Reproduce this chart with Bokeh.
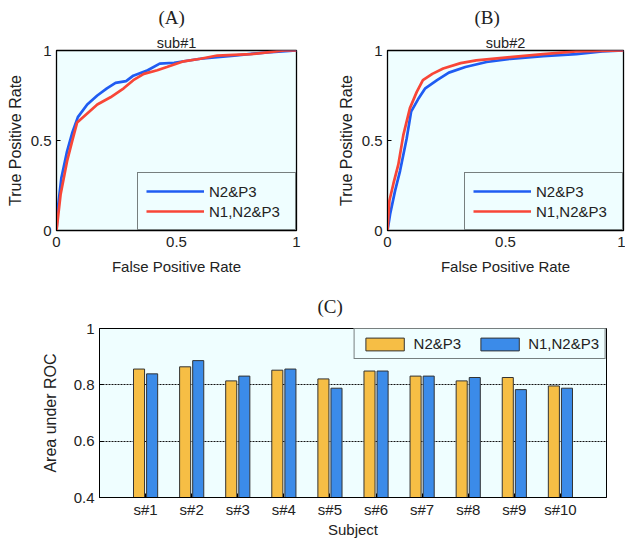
from bokeh.plotting import figure
from bokeh.layouts import column, row
from bokeh.models import Title, FixedTicker, Range1d, ColumnDataSource
from bokeh.transform import dodge
from bokeh.embed import file_html
from bokeh.resources import INLINE

# ---------------- data ----------------
fpr_a_n2p3 = [0, 0.006, 0.02, 0.044, 0.065, 0.089, 0.128, 0.17, 0.21, 0.246, 0.29, 0.32, 0.38, 0.43, 0.49, 0.6, 0.74, 0.88, 1.0]
tpr_a_n2p3 = [0, 0.128, 0.29, 0.44, 0.54, 0.63, 0.70, 0.75, 0.79, 0.82, 0.83, 0.86, 0.89, 0.927, 0.932, 0.954, 0.972, 0.99, 1.0]
fpr_a_n1n2p3 = [0, 0.017, 0.044, 0.065, 0.086, 0.128, 0.17, 0.225, 0.28, 0.32, 0.364, 0.42, 0.46, 0.53, 0.6, 0.67, 0.81, 0.95, 1.0]
tpr_a_n1n2p3 = [0, 0.20, 0.385, 0.495, 0.60, 0.65, 0.70, 0.74, 0.79, 0.835, 0.87, 0.89, 0.908, 0.94, 0.954, 0.972, 0.98, 1.0, 1.0]

fpr_b_n2p3 = [0, 0.011, 0.032, 0.053, 0.081, 0.10, 0.13, 0.16, 0.21, 0.26, 0.33, 0.42, 0.52, 0.66, 0.80, 0.91, 1.0]
tpr_b_n2p3 = [0, 0.09, 0.22, 0.33, 0.51, 0.66, 0.73, 0.79, 0.835, 0.877, 0.908, 0.936, 0.954, 0.969, 0.98, 0.995, 1.0]
fpr_b_n1n2p3 = [0, 0.008, 0.025, 0.046, 0.067, 0.095, 0.124, 0.15, 0.19, 0.236, 0.31, 0.376, 0.52, 0.66, 0.80, 1.0]
tpr_b_n1n2p3 = [0, 0.165, 0.26, 0.367, 0.53, 0.68, 0.77, 0.835, 0.87, 0.90, 0.93, 0.945, 0.963, 0.98, 0.995, 1.0]

subjects = ["s#1", "s#2", "s#3", "s#4", "s#5", "s#6", "s#7", "s#8", "s#9", "s#10"]
subject_idx = [1, 2, 3, 4, 5, 6, 7, 8, 9, 10]
auc_n2p3 = [0.856, 0.864, 0.814, 0.852, 0.821, 0.849, 0.831, 0.814, 0.826, 0.796]
auc_n1n2p3 = [0.839, 0.886, 0.831, 0.856, 0.788, 0.849, 0.831, 0.826, 0.783, 0.788]

roc_ticks = [0, 0.5, 1]
roc_tick_labels = {0: "0", 0.5: "0.5", 1: "1"}
auc_ticks = [0.4, 0.6, 0.8, 1.0]
auc_tick_labels = {0.4: "0.4", 0.6: "0.6", 0.8: "0.8", 1.0: "1"}

# ---------------- style ----------------
SANS = "Liberation Sans"
SERIF = "Liberation Serif"
BG = "#EFFEFF"
BLUE_LINE = "#1F5CF2"
RED_LINE = "#F84637"
ORANGE_BAR = "#F6BE45"
BLUE_BAR = "#3B8BE9"
TXT = "#222222"


def style_axis(ax, ticks, labels, ylab=False):
    ax.ticker = FixedTicker(ticks=ticks)
    ax.major_label_overrides = labels
    ax.major_tick_in = 4
    ax.major_tick_out = 0
    ax.minor_tick_line_color = None
    ax.axis_line_color = "black"
    ax.major_tick_line_color = "black"
    ax.major_label_text_font = SANS
    ax.major_label_text_font_size = "15px"
    ax.major_label_text_color = TXT
    ax.axis_label_text_font = SANS
    ax.axis_label_text_font_size = "16px" if ylab else "15px"
    ax.axis_label_text_font_style = "normal"
    ax.axis_label_text_color = TXT


def roc_panel(letter, sub, fa, ta, fb, tb, width, bl, br, letter_offset):
    p = figure(width=width, height=285, output_backend="svg", toolbar_location=None,
               x_range=Range1d(0, 1), y_range=Range1d(0, 1), title=None,
               min_border_left=bl, min_border_right=br, min_border_top=47, min_border_bottom=55)
    p.background_fill_color = BG
    p.border_fill_color = "white"
    p.outline_line_color = "black"
    p.outline_line_width = 1.3
    p.grid.visible = False
    p.line(fa, ta, line_color=BLUE_LINE, line_width=2.7, legend_label="N2&P3")
    p.line(fb, tb, line_color=RED_LINE, line_width=2.7, legend_label="N1,N2&P3")
    style_axis(p.xaxis[0], roc_ticks, roc_tick_labels)
    style_axis(p.yaxis[0], roc_ticks, roc_tick_labels, ylab=True)
    p.xaxis[0].axis_label = "False Positive Rate"
    p.yaxis[0].axis_label = "True Positive Rate"
    p.xaxis[0].major_label_standoff = 6
    p.xaxis[0].axis_label_standoff = 8
    p.yaxis[0].major_label_standoff = 5
    p.yaxis[0].axis_label_standoff = 4
    p.add_layout(Title(text=sub, align="center", text_font=SANS, text_font_size="14.5px",
                       text_font_style="normal", text_color=TXT, standoff=0), "above")
    p.add_layout(Title(text=letter, align="left", text_font=SERIF, text_font_size="19px",
                       text_font_style="normal", text_color=TXT, standoff=9,
                       offset=letter_offset), "above")
    lg = p.legend[0]
    lg.location = "bottom_right"
    lg.margin = 0
    lg.padding = 8
    lg.spacing = 0
    lg.glyph_width = 58
    lg.glyph_height = 20
    lg.label_height = 20
    lg.label_width = 78
    lg.label_standoff = 5
    lg.label_text_font = SANS
    lg.label_text_font_size = "15px"
    lg.label_text_color = TXT
    lg.border_line_color = "black"
    lg.border_line_width = 1.3
    lg.background_fill_color = BG
    lg.background_fill_alpha = 1
    return p


pA = roc_panel("(A)", "sub#1", fpr_a_n2p3, tpr_a_n2p3, fpr_a_n1n2p3, tpr_a_n1n2p3, 316, 56, 20, 102)
pB = roc_panel("(B)", "sub#2", fpr_b_n2p3, tpr_b_n2p3, fpr_b_n1n2p3, tpr_b_n1n2p3, 309, 71, 2, 87)

# ---------------- bar panel ----------------
src = ColumnDataSource(dict(x=subject_idx, a=auc_n2p3, b=auc_n1n2p3))
pC = figure(width=620, height=255, output_backend="svg", toolbar_location=None,
            x_range=Range1d(0, 11), y_range=Range1d(0.4, 1.0), title=None,
            min_border_left=99, min_border_right=14, min_border_top=43, min_border_bottom=43)
pC.background_fill_color = BG
pC.outline_line_color = "black"
pC.outline_line_width = 1.0
pC.xgrid.visible = False
pC.ygrid.ticker = FixedTicker(ticks=auc_ticks)
pC.ygrid.grid_line_color = "#111111"
pC.ygrid.grid_line_dash = "2 1"
pC.ygrid.grid_line_width = 1.1
pC.vbar(x=dodge("x", -0.142), top="a", bottom=0, width=0.24, source=src,
        fill_color=ORANGE_BAR, line_color="#333333", line_width=1, legend_label="N2&P3")
pC.vbar(x=dodge("x", 0.142), top="b", bottom=0, width=0.24, source=src,
        fill_color=BLUE_BAR, line_color="#333333", line_width=1, legend_label="N1,N2&P3")
style_axis(pC.xaxis[0], subject_idx, {i: s for i, s in zip(subject_idx, subjects)})
style_axis(pC.yaxis[0], auc_ticks, auc_tick_labels, ylab=True)
pC.xaxis[0].axis_label = "Subject"
pC.yaxis[0].axis_label = "Area under ROC"
pC.xaxis[0].major_label_standoff = 3
pC.xaxis[0].axis_label_standoff = 0
pC.yaxis[0].major_label_standoff = 5
pC.yaxis[0].axis_label_standoff = 12
pC.add_layout(Title(text="(C)", align="left", vertical_align="top", text_font=SERIF,
                    text_font_size="19px", text_font_style="normal", text_color=TXT,
                    standoff=20, offset=218), "above")
lc = pC.legend[0]
lc.location = "top_right"
lc.orientation = "horizontal"
lc.margin = 0
lc.padding = 6
lc.spacing = 14
lc.glyph_width = 48
lc.glyph_height = 16
lc.label_height = 16
lc.label_standoff = 5
lc.label_text_font = SANS
lc.label_text_font_size = "15px"
lc.label_text_color = TXT
lc.border_line_color = "black"
lc.border_line_width = 1.3
lc.background_fill_color = BG
lc.background_fill_alpha = 1

layout = column(row(pA, pB), pC)
open("out.html", "w").write(file_html(layout, INLINE))
